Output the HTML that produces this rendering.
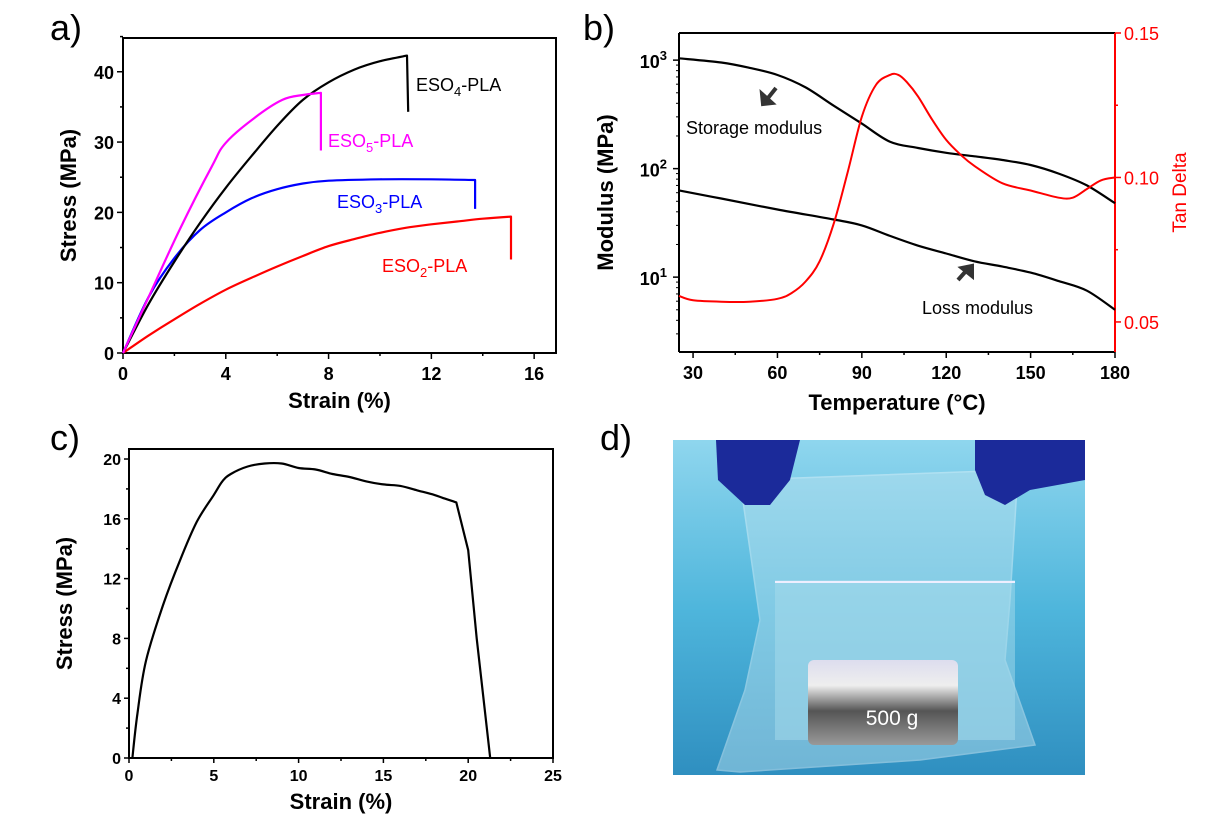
<!DOCTYPE html>
<html><head><meta charset="utf-8"><style>
body{margin:0;background:#fff;width:1211px;height:837px;overflow:hidden}
svg{display:block;font-family:"Liberation Sans",Arial,sans-serif}
.tk{font-size:18px;font-weight:bold;fill:#000}
.at{font-size:22px;font-weight:bold;fill:#000}
.pl{font-size:36px;fill:#000}
</style></head><body>
<svg id="s" width="1211" height="837" viewBox="0 0 1211 837">
<defs>
<linearGradient id="bg" x1="0" y1="0" x2="0" y2="1"><stop offset="0" stop-color="#8fd6ee"/><stop offset="0.5" stop-color="#4fb6dc"/><stop offset="1" stop-color="#2f8fc0"/></linearGradient>
<linearGradient id="wt" x1="0" y1="0" x2="0" y2="1"><stop offset="0" stop-color="#dde"/><stop offset="0.3" stop-color="#eee"/><stop offset="0.6" stop-color="#555"/><stop offset="1" stop-color="#999"/></linearGradient>
</defs>
<text class="pl" x="50" y="40">a)</text>
<text class="pl" x="583" y="40">b)</text>
<text class="pl" x="50" y="450">c)</text>
<text class="pl" x="600" y="450">d)</text>
<g id="ga"></g>
<g id="gb"></g>
<g id="gc"></g>
<g>
<rect x="673" y="440" width="412" height="335" fill="url(#bg)"/>
<path d="M740 480 L760 620 L745 690 L717 770 L740 772 L920 760 L1035 745 L1005 660 L1010 600 L1018 470 Z" fill="#bfe4f0" opacity="0.45" stroke="#e8f6fb" stroke-width="1.5"/>
<rect x="775" y="580" width="240" height="160" fill="#a8dcec" opacity="0.5"/>
<line x1="775" y1="582" x2="1015" y2="582" stroke="#eef" stroke-width="2"/>
<rect x="808" y="660" width="150" height="85" rx="6" fill="url(#wt)"/>
<text x="892" y="725" text-anchor="middle" font-size="21" fill="#fff">500 g</text>
<path d="M716 440 L800 440 L790 480 L770 505 L745 505 L718 480 Z" fill="#1b2a9a"/>
<path d="M975 440 L1085 440 L1085 480 L1030 490 L1005 505 L985 495 L975 470 Z" fill="#1b2a9a"/>
</g>
</svg>
<script>
// ---- Panel a data ----
const aStrain4=[0,1,2,3,4,5,6,7,8,9,10,11.05,11.1];
const aStress4=[0,7,13,18.5,23.5,28,32.3,36,38.5,40.3,41.5,42.3,34.3];
const aStrain5=[0,1,2.2,3.45,4,5.1,6.2,7,7.7,7.7];
const aStress5=[0,8,17.5,26.5,29.9,33.4,36,36.7,37,28.8];
const aStrain3=[0,1,2,3,4,5,6,7,8,10,12,13.7,13.7];
const aStress3=[0,8,13.5,17.5,20,22,23.3,24.1,24.5,24.7,24.7,24.6,20.5];
const aStrain2=[0,1,2,3,4,5,6,7,8,9,10,11,12,13,14,15.1,15.1];
const aStress2=[0,2.5,4.8,7,9,10.7,12.3,13.8,15.2,16.2,17.1,17.8,18.3,18.7,19.1,19.4,13.3];
const aXTicks=[0,4,8,12,16];
const aYTicks=[0,10,20,30,40];
// ---- Panel b data ----
const bTempS=[25,40,50,60,70,80,90,100,110,120,130,140,150,160,170,180];
const bStorage=[1040,950,850,730,560,380,260,177,155,140,130,120,108,90,70,48];
const bTempL=[25,40,60,80,90,100,110,120,130,140,150,160,170,180];
const bLoss=[63,53,42,34,30,24,19.5,16.5,14,12.5,11,9.2,7.5,5];
const bTempT=[25,30,40,50,60,65,70,75,80,85,90,95,100,103,106,110,115,120,125,130,140,150,160,165,170,175,180];
const bTan=[0.059,0.0575,0.057,0.057,0.058,0.06,0.064,0.071,0.084,0.102,0.121,0.132,0.1355,0.1355,0.133,0.128,0.12,0.113,0.108,0.104,0.098,0.0955,0.093,0.093,0.096,0.099,0.1];
const bXTicks=[30,60,90,120,150,180];
const bRTicks=[0.05,0.10,0.15];
// ---- Panel c data ----
const cStrain=[0.2,0.5,1,2,3,4,5,5.5,6,7,8,9,10,11,12,13,14,15,16,17,18,18.5,19.3,20,20.5,21.3];
const cStress=[0,3,6.5,10.2,13.2,15.8,17.6,18.5,19,19.5,19.7,19.7,19.4,19.3,19,18.8,18.5,18.3,18.2,17.9,17.6,17.4,17.1,13.9,8,0];
const cXTicks=[0,5,10,15,20,25];
const cYTicks=[0,4,8,12,16,20];

const NS="http://www.w3.org/2000/svg";
function mk(p,t,a){const e=document.createElementNS(NS,t);for(const k in a)e.setAttribute(k,a[k]);p.appendChild(e);return e;}
function path(g,xs,ys,fx,fy,col,w,name,smooth,tail){
  const P=xs.map((x,i)=>[fx(x),fy(ys[i])]);
  const n=P.length, ns=smooth?n-(tail||0):1;
  let d='M'+P[0][0].toFixed(1)+' '+P[0][1].toFixed(1);
  for(let i=1;i<n;i++){
    if(smooth&&i<ns){
      const p0=P[Math.max(i-2,0)],p1=P[i-1],p2=P[i],p3=P[Math.min(i+1,ns-1)];
      const c1=[p1[0]+(p2[0]-p0[0])/6,p1[1]+(p2[1]-p0[1])/6],c2=[p2[0]-(p3[0]-p1[0])/6,p2[1]-(p3[1]-p1[1])/6];
      d+=' C'+c1[0].toFixed(1)+' '+c1[1].toFixed(1)+' '+c2[0].toFixed(1)+' '+c2[1].toFixed(1)+' '+p2[0].toFixed(1)+' '+p2[1].toFixed(1);
    } else d+=' L'+P[i][0].toFixed(1)+' '+P[i][1].toFixed(1);
  }
  const e=mk(g,'path',{d:d,fill:'none',stroke:col,'stroke-width':w||2,'stroke-linejoin':'round'});
  
  
}
function txt(g,x,y,s,cls,anchor,name,extra){
  const e=mk(g,'text',Object.assign({x:x,y:y,'class':cls,'text-anchor':anchor||'middle'},extra||{}));
  e.textContent=s;
  
  
  return e;
}
function frame(g,L,R,T,B){const e=mk(g,'rect',{x:L,y:T,width:R-L,height:B-T,fill:'none',stroke:'#000','stroke-width':2});
  
  }

// Panel a
(function(){
const g=document.getElementById('ga');const L=123,R=556,T=38,B=353;
const fx=v=>L+(v/16.85)*(R-L), fy=v=>B-(v/44.8)*(B-T);
frame(g,L,R,T,B);
aXTicks.forEach(t=>{mk(g,'line',{x1:fx(t),x2:fx(t),y1:B,y2:B+6,stroke:'#000','stroke-width':1.5});txt(g,fx(t),B+27,t,'tk','middle','x-tick-label');});
aXTicks.forEach(t=>{if(t+2<17)mk(g,'line',{x1:fx(t+2),x2:fx(t+2),y1:B,y2:B+3,stroke:'#000','stroke-width':1.5});});
aYTicks.forEach(t=>{mk(g,'line',{x1:L-6,x2:L,y1:fy(t),y2:fy(t),stroke:'#000','stroke-width':1.5});txt(g,L-9,fy(t)+7,t,'tk','end','y-tick-label');
  mk(g,'line',{x1:L-3,x2:L,y1:fy(t+5),y2:fy(t+5),stroke:'#000','stroke-width':1.5});});
txt(g,(L+R)/2,B+55,'Strain (%)','at','middle','x-axis-title');
txt(g,0,0,'Stress (MPa)','at','middle','y-axis-title',{transform:'translate(76,'+(T+B)/2+') rotate(-90)'});
path(g,aStrain2,aStress2,fx,fy,'#ff0000',2.2,'eso2-line',true,1);
path(g,aStrain3,aStress3,fx,fy,'#0000ff',2.2,'eso3-line',true,1);
path(g,aStrain4,aStress4,fx,fy,'#000',2.2,'eso4-line',true,1);
path(g,aStrain5,aStress5,fx,fy,'#ff00ff',2.2,'eso5-line',true,1);
const lb=[['ESO','4','-PLA',416,91,'#000'],['ESO','5','-PLA',328,147,'#ff00ff'],['ESO','3','-PLA',337,208,'#0000ff'],['ESO','2','-PLA',382,272,'#ff0000']];
lb.forEach(l=>{const e=mk(g,'text',{x:l[3],y:l[4],'font-size':18,fill:l[5]});
 
 
 e.appendChild(document.createTextNode(l[0]));const s=mk(e,'tspan',{dy:5,'font-size':13});s.textContent=l[1];const s2=mk(e,'tspan',{dy:-5});s2.textContent=l[2];});
})();

// Panel b
(function(){
const g=document.getElementById('gb');const L=679,R=1115,T=33,B=352;
const fx=v=>L+(v-25)/155*(R-L);
const lg0=0.31,lg1=3.25;
const fy=v=>B-(Math.log10(v)-lg0)/(lg1-lg0)*(B-T);
const fr=v=>B-(v-0.0396)/(0.15-0.0396)*(B-T);
mk(g,'line',{x1:L,x2:R,y1:T,y2:T,stroke:'#000','stroke-width':2});
mk(g,'line',{x1:L,x2:R,y1:B,y2:B,stroke:'#000','stroke-width':2});
mk(g,'line',{x1:L,x2:L,y1:T,y2:B,stroke:'#000','stroke-width':2});
mk(g,'line',{x1:R,x2:R,y1:T,y2:B,stroke:'#ff0000','stroke-width':2});
bXTicks.forEach(t=>{mk(g,'line',{x1:fx(t),x2:fx(t),y1:B,y2:B+6,stroke:'#000','stroke-width':1.5});txt(g,fx(t),B+27,t,'tk','middle','x-tick-label');
 if(t>30)mk(g,'line',{x1:fx(t-15),x2:fx(t-15),y1:B,y2:B+3,stroke:'#000','stroke-width':1.5});});
[1,2,3].forEach(p=>{mk(g,'line',{x1:L-6,x2:L,y1:fy(Math.pow(10,p)),y2:fy(Math.pow(10,p)),stroke:'#000','stroke-width':1.5});
 const e=txt(g,L-12,fy(Math.pow(10,p))+8,'10','tk','end','y-tick-label');const s=mk(e,'tspan',{dy:-8,'font-size':13});s.textContent=p;});
for(let p=0;p<4;p++)for(let m=2;m<10;m++){const v=m*Math.pow(10,p);if(Math.log10(v)>lg0&&Math.log10(v)<lg1)mk(g,'line',{x1:L-3,x2:L,y1:fy(v),y2:fy(v),stroke:'#000','stroke-width':1});}
bRTicks.forEach(t=>{mk(g,'line',{x1:R,x2:R+6,y1:fr(t),y2:fr(t),stroke:'#ff0000','stroke-width':1.5});
 const e=txt(g,R+9,fr(t)+7,t.toFixed(2),'tk','start','right-tick-label');e.style.fontWeight='normal';e.style.fill='#ff0000';
 mk(g,'line',{x1:R,x2:R+3,y1:fr(t+0.025),y2:fr(t+0.025),stroke:'#ff0000','stroke-width':1.5});});
txt(g,(L+R)/2,B+58,'Temperature (°C)','at','middle','x-axis-title');
txt(g,0,0,'Modulus (MPa)','at','middle','y-axis-title',{transform:'translate(613,'+(T+B)/2+') rotate(-90)'});
const rt=txt(g,0,0,'Tan Delta','tk','middle','right-axis-title',{transform:'translate(1186,'+(T+B)/2+') rotate(-90)'});rt.style.fill='#ff0000';rt.style.fontWeight='normal';rt.style.fontSize='19px';
path(g,bTempS,bStorage,fx,fy,'#000',2.2,'storage-modulus-line',true,0);
path(g,bTempL,bLoss,fx,fy,'#000',2.2,'loss-modulus-line',true,0);
path(g,bTempT,bTan,fx,fr,'#ff0000',2,'tan-delta-line',true,0);
const s1=txt(g,686,134,'Storage modulus','tk','start','storage-label');s1.style.fontWeight='normal';s1.style.fontSize='18px';
const s2=txt(g,922,314,'Loss modulus','tk','start','loss-label');s2.style.fontWeight='normal';s2.style.fontSize='18px';
const a1=mk(g,'path',{d:'M776 88 L768 98 M763 104 L762 94 L772 103 Z',stroke:'#333','stroke-width':4,fill:'#333'});

const a2=mk(g,'path',{d:'M958 280 L966 271 M972 266 L972 276 L962 268 Z',stroke:'#333','stroke-width':4,fill:'#333'});

})();

// Panel c
(function(){
const g=document.getElementById('gc');const L=129,R=553,T=449,B=758;
const fx=v=>L+v/25*(R-L), fy=v=>B-v/20.67*(B-T);
frame(g,L,R,T,B);
cXTicks.forEach(t=>{mk(g,'line',{x1:fx(t),x2:fx(t),y1:B,y2:B+5,stroke:'#000','stroke-width':1.5});txt(g,fx(t),B+23,t,'tk','middle','x-tick-label');
 if(t<25)mk(g,'line',{x1:fx(t+2.5),x2:fx(t+2.5),y1:B,y2:B+3,stroke:'#000','stroke-width':1.5});});
cYTicks.forEach(t=>{mk(g,'line',{x1:L-5,x2:L,y1:fy(t),y2:fy(t),stroke:'#000','stroke-width':1.5});txt(g,L-8,fy(t)+6,t,'tk','end','y-tick-label');
 if(t<20)mk(g,'line',{x1:L-3,x2:L,y1:fy(t+2),y2:fy(t+2),stroke:'#000','stroke-width':1.5});});
txt(g,(L+R)/2,B+51,'Strain (%)','at','middle','x-axis-title');
txt(g,0,0,'Stress (MPa)','at','middle','y-axis-title',{transform:'translate(72,'+(T+B)/2+') rotate(-90)'});
path(g,cStrain,cStress,fx,fy,'#000',2.2,'stress-strain-line',true,3);
})();
document.querySelectorAll('#gc .tk').forEach(e=>{e.style.fontSize='16px';});
</script>
</body></html>
